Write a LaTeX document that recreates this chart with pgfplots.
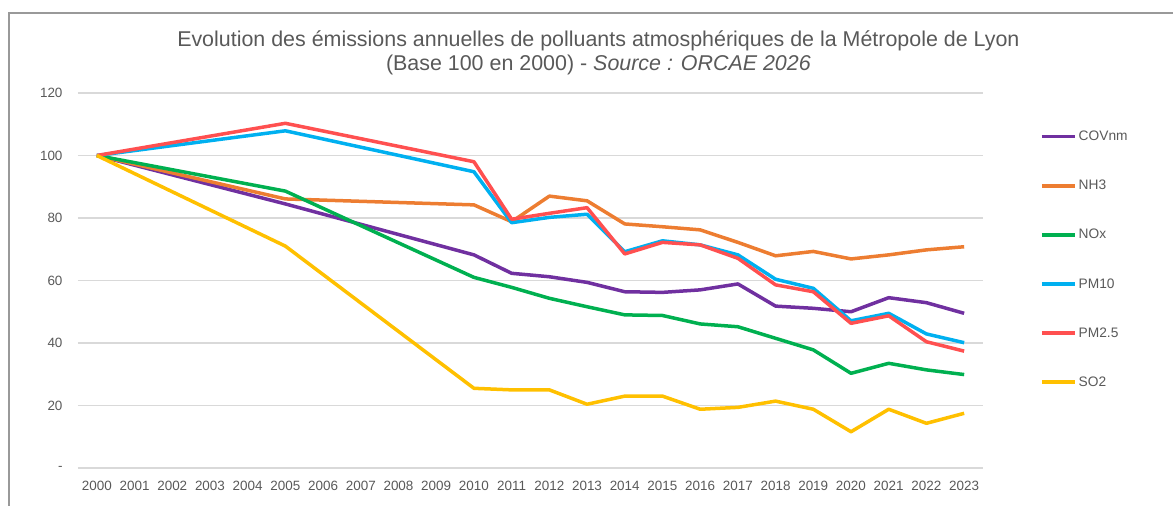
\documentclass[border=0pt]{standalone}
\usepackage{fontspec}
\setmainfont{Liberation Sans}
\usepackage{pgfplots}
\pgfplotsset{compat=1.18}

\definecolor{txt}{HTML}{595959}
\definecolor{gridc}{HTML}{D9D9D9}
\definecolor{cCOV}{HTML}{7030A0}
\definecolor{cNH}{HTML}{ED7D31}
\definecolor{cNOx}{HTML}{00B050}
\definecolor{cPMx}{HTML}{00B0F0}
\definecolor{cPMy}{HTML}{FF5050}
\definecolor{cSO}{HTML}{FFC000}

\begin{document}
\begin{tikzpicture}
\path[use as bounding box] (-78bp,-38bp) rectangle (1095bp,468bp);
\draw[color=black!40, line width=1.5bp] (-69bp,-40bp) -- (-69bp,455bp) -- (1097bp,455bp);
\begin{axis}[
  scale only axis, width=905bp, height=375bp,
  xmin=1999.5, xmax=2023.5, ymin=0, ymax=120,
  xtick={2000,...,2023}, ytick={0,20,...,120},
  yticklabels={-,20,40,60,80,100,120},
  xticklabel style={/pgf/number format/1000 sep={}},
  /pgf/number format/assume math mode=true,
  tick label style={font=\fontsize{13.5}{16}\selectfont, text=txt},
  major tick length=0pt,
  ytick align=outside, xtick align=outside,
  yticklabel style={xshift=-12bp},
  xticklabel style={yshift=-10bp},
  axis line style={draw=none},
  ymajorgrids, grid style={gridc, line width=1.2bp},
  every axis title shift=0pt,
  title={Evolution des émissions annuelles de polluants atmosphériques de la Métropole de Lyon\\(Base 100 en 2000) - \textit{Source : ORCAE 2026}},
  title style={at={(axis description cs:0.575,1.04)}, anchor=south, align=center,
    font=\fontsize{21.5}{23.5}\selectfont, text=txt},
  legend style={at={(axis description cs:1.063,0.904)}, anchor=north west,
    draw=none, fill=none, inner sep=0pt, row sep=34bp,
    font=\fontsize{13.8}{16}\selectfont, text=txt},
  legend cell align=left,
  legend image code/.code={\draw[#1] (0bp,0bp) -- (33bp,0bp);},
  every axis plot/.append style={line width=3.5bp, line join=round},
]
\addplot[cCOV] coordinates {(2000,100)(2005,84.5)(2010,68.2)(2011,62.3)(2012,61.2)(2013,59.4)(2014,56.4)(2015,56.2)(2016,57.0)(2017,58.9)(2018,51.8)(2019,51.1)(2020,50.0)(2021,54.5)(2022,52.9)(2023,49.5)};
\addlegendentry{COVnm}
\addplot[cNH] coordinates {(2000,100)(2005,86.1)(2010,84.2)(2011,78.8)(2012,87.0)(2013,85.5)(2014,78.1)(2015,77.2)(2016,76.2)(2017,72.2)(2018,67.9)(2019,69.3)(2020,66.9)(2021,68.2)(2022,69.8)(2023,70.8)};
\addlegendentry{NH3}
\addplot[cNOx] coordinates {(2000,100)(2005,88.6)(2010,61.0)(2011,57.8)(2012,54.3)(2013,51.6)(2014,49.0)(2015,48.8)(2016,46.1)(2017,45.2)(2018,41.5)(2019,37.8)(2020,30.3)(2021,33.5)(2022,31.4)(2023,29.9)};
\addlegendentry{NOx}
\addplot[cPMx] coordinates {(2000,100)(2005,107.9)(2010,94.8)(2011,78.5)(2012,80.2)(2013,81.2)(2014,69.2)(2015,72.7)(2016,71.4)(2017,68.2)(2018,60.4)(2019,57.5)(2020,47.1)(2021,49.5)(2022,42.9)(2023,40.1)};
\addlegendentry{PM10}
\addplot[cPMy] coordinates {(2000,100)(2005,110.3)(2010,98.0)(2011,79.6)(2012,81.5)(2013,83.3)(2014,68.5)(2015,72.2)(2016,71.4)(2017,67.1)(2018,58.6)(2019,56.4)(2020,46.3)(2021,48.7)(2022,40.4)(2023,37.4)};
\addlegendentry{PM2.5}
\addplot[cSO] coordinates {(2000,100)(2005,71.0)(2010,25.5)(2011,25.0)(2012,25.0)(2013,20.4)(2014,23.0)(2015,23.0)(2016,18.8)(2017,19.4)(2018,21.4)(2019,18.8)(2020,11.6)(2021,18.8)(2022,14.3)(2023,17.5)};
\addlegendentry{SO2}
\end{axis}
\end{tikzpicture}
\end{document}
